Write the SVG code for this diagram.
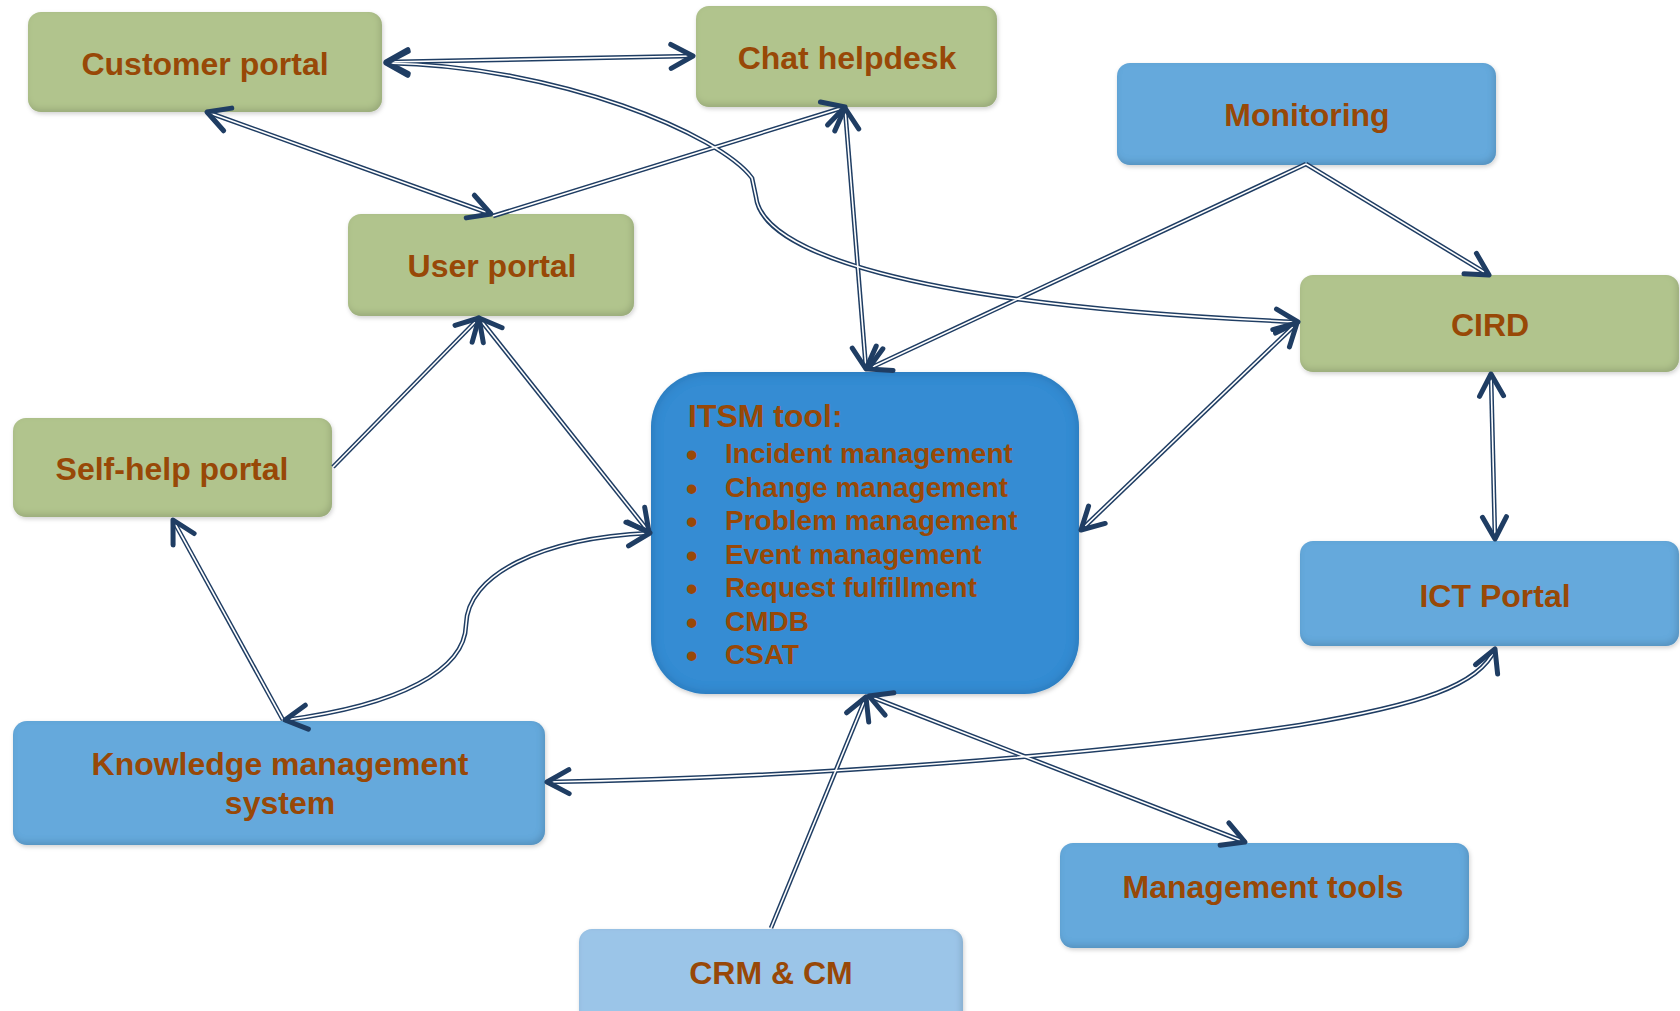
<svg xmlns="http://www.w3.org/2000/svg" width="1680" height="1011" viewBox="0 0 1680 1011">
<style>
.t{font-family:"Liberation Sans",Arial,sans-serif;font-weight:bold;font-size:32px;fill:#984807;text-anchor:middle}
.l{font-family:"Liberation Sans",Arial,sans-serif;font-weight:bold;font-size:28px;fill:#984807}
.bu{font-size:33px}
.g{fill:#B1C48D}
.b{fill:#65A9DC}
.lb{fill:#9BC5E8}
.it{fill:#358CD3}
.dk{fill:none;stroke:#1F3D63;stroke-width:4.6}
.wh{fill:none;stroke:#FFFFFF;stroke-width:1.6;marker-end:url(#ah)}
.both{marker-start:url(#ah)}
</style>
<defs>
<filter id="bev" x="-5%" y="-5%" width="112%" height="118%">
<feGaussianBlur in="SourceAlpha" stdDeviation="3" result="blur"/>
<feOffset in="blur" dx="-2" dy="-3" result="off"/>
<feComposite in="SourceAlpha" in2="off" operator="out" result="inner"/>
<feFlood flood-color="#000000" flood-opacity="0.28"/>
<feComposite in2="inner" operator="in" result="shade"/>
<feGaussianBlur in="SourceAlpha" stdDeviation="2" result="sb"/>
<feOffset in="sb" dx="1" dy="2" result="so"/>
<feFlood flood-color="#000000" flood-opacity="0.18"/>
<feComposite in2="so" operator="in" result="drop"/>
<feMerge><feMergeNode in="drop"/><feMergeNode in="SourceGraphic"/><feMergeNode in="shade"/></feMerge>
</filter>
<filter id="bev2" x="-5%" y="-5%" width="110%" height="112%">
<feGaussianBlur in="SourceAlpha" stdDeviation="6" result="blur"/>
<feComposite in="SourceAlpha" in2="blur" operator="out" result="inner"/>
<feFlood flood-color="#0A3A70" flood-opacity="0.45"/>
<feComposite in2="inner" operator="in" result="shade"/>
<feGaussianBlur in="SourceAlpha" stdDeviation="2" result="sb"/>
<feOffset in="sb" dx="1" dy="2" result="so"/>
<feFlood flood-color="#000000" flood-opacity="0.2"/>
<feComposite in2="so" operator="in" result="drop"/>
<feMerge><feMergeNode in="drop"/><feMergeNode in="SourceGraphic"/><feMergeNode in="shade"/></feMerge>
</filter>
<marker id="ah" viewBox="-30 -18 36 36" markerWidth="36" markerHeight="36" refX="0" refY="0" markerUnits="userSpaceOnUse" orient="auto-start-reverse" overflow="visible">
<path d="M-22,-12 L0,0 L-22,12" fill="none" stroke="#1F3D63" stroke-width="5" stroke-linecap="round" stroke-linejoin="round"/>
</marker>
</defs>

<g id="customer-portal"><rect class="g" filter="url(#bev)" x="28" y="12" width="354" height="100" rx="13"/><text class="t" x="205" y="75">Customer portal</text></g>
<g id="chat-helpdesk"><rect class="g" filter="url(#bev)" x="696" y="6" width="301" height="101" rx="13"/><text class="t" x="847" y="69">Chat helpdesk</text></g>
<g id="monitoring"><rect class="b" filter="url(#bev)" x="1117" y="63" width="379" height="102" rx="13"/><text class="t" x="1307" y="126">Monitoring</text></g>
<g id="user-portal"><rect class="g" filter="url(#bev)" x="348" y="214" width="286" height="102" rx="13"/><text class="t" x="492" y="277">User portal</text></g>
<g id="cird"><rect class="g" filter="url(#bev)" x="1300" y="275" width="379" height="97" rx="13"/><text class="t" x="1490" y="336">CIRD</text></g>
<g id="self-help-portal"><rect class="g" filter="url(#bev)" x="13" y="418" width="319" height="99" rx="13"/><text class="t" x="172" y="480">Self-help portal</text></g>
<g id="itsm-tool"><rect class="it" filter="url(#bev2)" x="651" y="372" width="428" height="322" rx="55"/>
<text class="t" style="text-anchor:start" x="688" y="427">ITSM tool:</text>
<g class="l">
<text x="686" y="463"><tspan class="bu" dy="3">•</tspan><tspan x="725" dy="-3">Incident management</tspan></text>
<text x="686" y="496.5"><tspan class="bu" dy="3">•</tspan><tspan x="725" dy="-3">Change management</tspan></text>
<text x="686" y="530"><tspan class="bu" dy="3">•</tspan><tspan x="725" dy="-3">Problem management</tspan></text>
<text x="686" y="563.5"><tspan class="bu" dy="3">•</tspan><tspan x="725" dy="-3">Event management</tspan></text>
<text x="686" y="597"><tspan class="bu" dy="3">•</tspan><tspan x="725" dy="-3">Request fulfillment</tspan></text>
<text x="686" y="630.5"><tspan class="bu" dy="3">•</tspan><tspan x="725" dy="-3">CMDB</tspan></text>
<text x="686" y="664"><tspan class="bu" dy="3">•</tspan><tspan x="725" dy="-3">CSAT</tspan></text>
</g></g>
<g id="ict-portal"><rect class="b" filter="url(#bev)" x="1300" y="541" width="379" height="105" rx="13"/><text class="t" x="1495" y="607">ICT Portal</text></g>
<g id="knowledge-management-system"><rect class="b" filter="url(#bev)" x="13" y="721" width="532" height="124" rx="14"/><text class="t" x="280" y="775">Knowledge management</text><text class="t" x="280" y="814">system</text></g>
<g id="management-tools"><rect class="b" filter="url(#bev)" x="1060" y="843" width="409" height="105" rx="13"/><text class="t" x="1263" y="898">Management tools</text></g>
<g id="crm-cm"><rect class="lb" filter="url(#bev)" x="579" y="929" width="384" height="100" rx="13"/><text class="t" x="771" y="984">CRM &amp; CM</text></g>

<g id="connectors">
<g>
<path class="dk" d="M386,62 L693,56"/>
<path class="dk" d="M386,63 C560,66 720,135 752,178 L756,197 C762,250 900,305 1298,322"/>
<path class="dk" d="M207,112 L491,214"/>
<path class="dk" d="M493,216 L845,107"/>
<path class="dk" d="M845,108 L866,369"/>
<path class="dk" d="M1306,164 L868,369"/>
<path class="dk" d="M1306,164 L1489,275"/>
<path class="dk" d="M1297,323 L1081,530"/>
<path class="dk" d="M1491,374 L1495,539"/>
<path class="dk" d="M479,318 L649,532"/>
<path class="dk" d="M333,467 L479,318"/>
<path class="dk" d="M283,720 L173,520"/>
<path class="dk" d="M285,720 C400,705 465,670 466,625 C467,575 540,538 650,533"/>
<path class="dk" d="M547,782 C800,778 1100,755 1300,725 C1420,705 1480,685 1495,649"/>
<path class="dk" d="M869,696 L1245,842"/>
<path class="dk" d="M771,928 L866,697"/>
</g>
<g>
<path class="wh both" d="M386,62 L693,56"/>
<path class="wh both" d="M386,63 C560,66 720,135 752,178 L756,197 C762,250 900,305 1298,322"/>
<path class="wh both" d="M207,112 L491,214"/>
<path class="wh" d="M493,216 L845,107"/>
<path class="wh both" d="M845,108 L866,369"/>
<path class="wh" d="M1306,164 L868,369"/>
<path class="wh" d="M1306,164 L1489,275"/>
<path class="wh both" d="M1297,323 L1081,530"/>
<path class="wh both" d="M1491,374 L1495,539"/>
<path class="wh both" d="M479,318 L649,532"/>
<path class="wh" d="M333,467 L479,318"/>
<path class="wh" d="M283,720 L173,520"/>
<path class="wh both" d="M285,720 C400,705 465,670 466,625 C467,575 540,538 650,533"/>
<path class="wh both" d="M547,782 C800,778 1100,755 1300,725 C1420,705 1480,685 1495,649"/>
<path class="wh both" d="M869,696 L1245,842"/>
<path class="wh" d="M771,928 L866,697"/>
</g>
</g>
</svg>
